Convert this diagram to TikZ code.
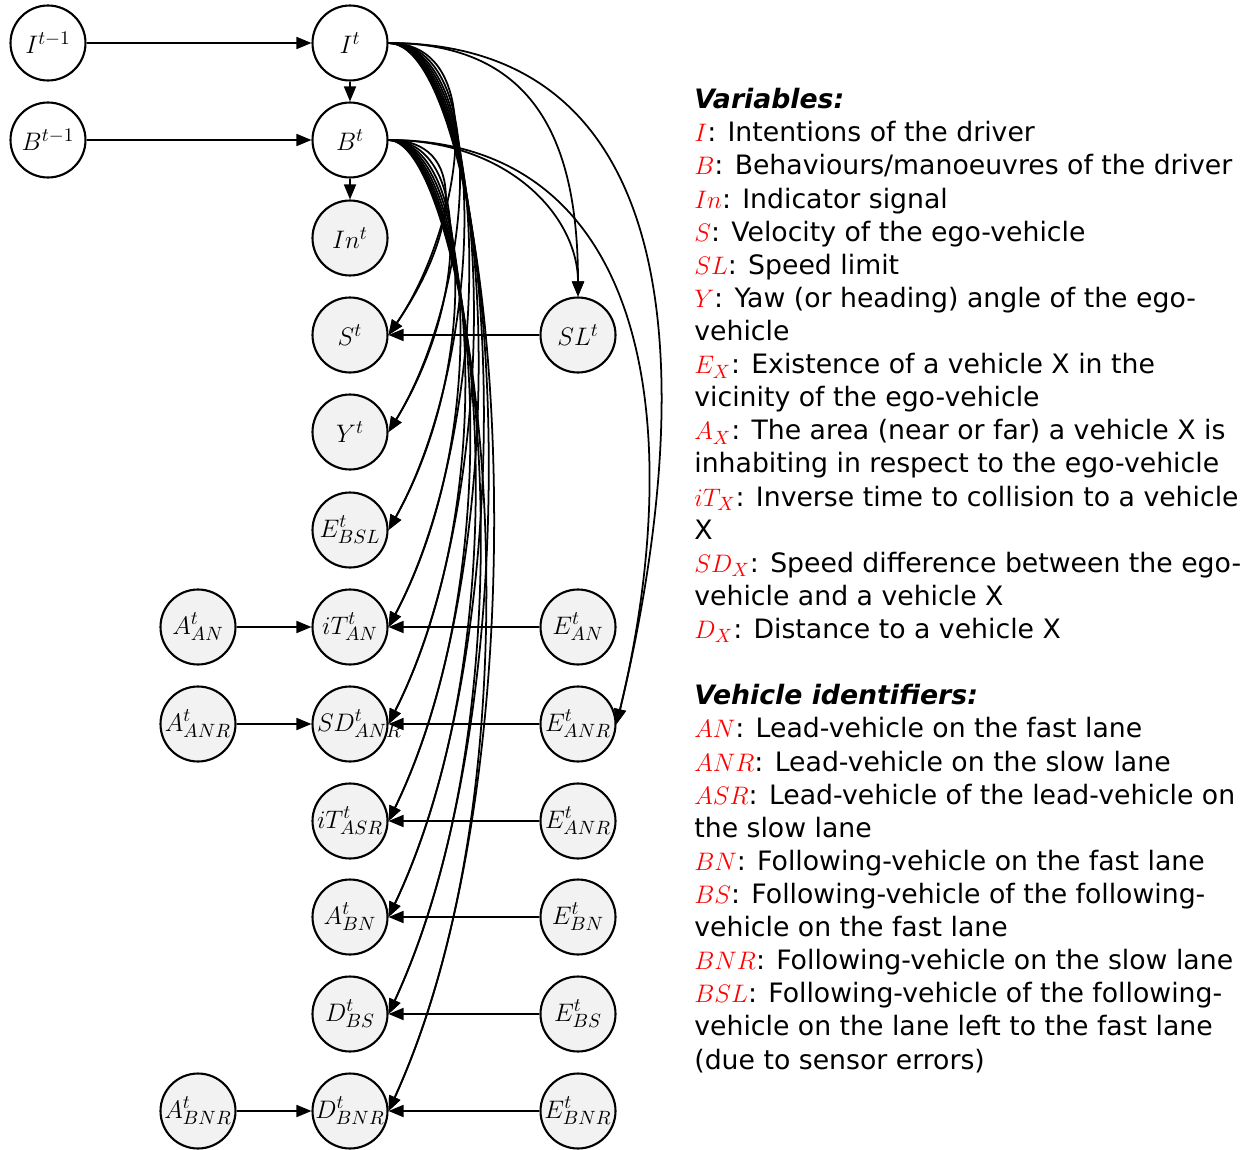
\documentclass[tikz,border=0pt]{standalone}
\usepackage{fontspec}
\usepackage{xcolor}
\usepackage{tikz}
\usetikzlibrary{arrows.meta}
\newfontfamily\legendfont{DejaVu Sans}
\definecolor{obsGray}{RGB}{242,242,242}
\definecolor{varRed}{RGB}{255,0,0}
\newcommand{\vname}[1]{\textcolor{varRed}{$#1$}}

\begin{document}
\begin{tikzpicture}[x=0.02cm,y=-0.02cm,
          hid/.style={circle,draw,fill=white,minimum size=1.5cm,inner sep=0pt,
                      line width=1.2pt,font=\fontsize{15.5}{18}\selectfont},
          obs/.style={hid,fill=obsGray},
          edge/.style={-{Triangle[length=0.3cm,width=0.24cm]},line width=1pt},
        ]
        \useasboundingbox (0,0) rectangle (1247,1149);
        \node[hid] (It1)   at (48,43)    {$I^{t-1}$};
        \node[hid] (It)    at (350,43)   {$I^{t}$};
        \node[hid] (Bt1)   at (48,140)   {$B^{t-1}$};
        \node[hid] (Bt)    at (350,140)  {$B^{t}$};
        \node[obs] (Int)   at (350,238)  {$In^{t}$};
        \node[obs] (St)    at (350,335)  {$S^{t}$};
        \node[obs] (SLt)   at (578,335)  {$SL^{t}$};
        \node[obs] (Yt)    at (350,432)  {$Y^{t}$};
        \node[obs] (EBSL)  at (350,530)  {$E^{t}_{BSL}$};
        \node[obs] (AAN)   at (198,627)  {$A^{t}_{AN}$};
        \node[obs] (iTAN)  at (350,627)  {$iT^{t}_{AN}$};
        \node[obs] (EAN)   at (578,627)  {$E^{t}_{AN}$};
        \node[obs] (AANR)  at (198,724)  {$A^{t}_{ANR}$};
        \node[obs] (SDANR) at (350,724)  {\makebox[1.32cm][l]{$SD^{t}_{ANR}$}};
        \node[obs] (EANR)  at (578,724)  {$E^{t}_{ANR}$};
        \node[obs] (iTASR) at (350,821)  {\makebox[1.3cm]{$iT^{t}_{ASR}$}};
        \node[obs] (EASR)  at (578,821)  {$E^{t}_{ANR}$};
        \node[obs] (ABN)   at (350,917)  {$A^{t}_{BN}$};
        \node[obs] (EBN)   at (578,917)  {$E^{t}_{BN}$};
        \node[obs] (DBS)   at (350,1014) {$D^{t}_{BS}$};
        \node[obs] (EBS)   at (578,1014) {$E^{t}_{BS}$};
        \node[obs] (ABNR)  at (198,1111) {$A^{t}_{BNR}$};
        \node[obs] (DBNR)  at (350,1111) {$D^{t}_{BNR}$};
        \node[obs] (EBNR)  at (578,1111) {$E^{t}_{BNR}$};
        \foreach \a/\b in {It1/It,Bt1/Bt,It/Bt,Bt/Int,SLt/St,EAN/iTAN,AAN/iTAN,
                           EANR/SDANR,AANR/SDANR,EASR/iTASR,EBN/ABN,EBS/DBS,
                           EBNR/DBNR,ABNR/DBNR}{
          \draw[edge](\a)--(\b);
        }
        \foreach \n/\bx/\by in {St/70/102,Yt/83/136,EBSL/95/170,iTAN/108/204,
                                SDANR/120/238,iTASR/132/272,ABN/145/306,
                                DBS/157/340,DBNR/170/373}{
          \draw[edge](It.east) .. controls +(105,0) and +(\bx,-\by) .. (\n.east);
          \draw[edge](Bt.east) .. controls +(80,0) and +(\bx,-\by) .. (\n.east);
        }
        \draw[edge](It.east) .. controls +(150,0) and +(0,-150) .. (SLt.north);
        \draw[edge](Bt.east) .. controls +(120,0) and +(0,-80) .. (SLt.north);
        \draw[edge](It.east) .. controls +(320,0) and +(72,-300) .. (EANR.east);
        \draw[edge](Bt.east) .. controls +(260,0) and +(72,-300) .. (EANR.east);
        \node[anchor=north west,inner sep=0pt,align=left,
              font=\legendfont\fontsize{15.2}{18.85}\selectfont] (legend) at (694,88) {%
          {\bfseries\itshape Variables:}\\
          \vname{I}: Intentions of the driver\\
          \vname{B}: Behaviours/manoeuvres of the driver\\
          \vname{In}: Indicator signal\\
          \vname{S}: Velocity of the ego-vehicle\\
          \vname{SL}: Speed limit\\
          \vname{Y}: Yaw (or heading) angle of the ego-\\
          vehicle\\
          \vname{E_X}: Existence of a vehicle X in the\\
          vicinity of the ego-vehicle\\
          \vname{A_X}: The area (near or far) a vehicle X is\\
          inhabiting in respect to the ego-vehicle\\
          \vname{iT_X}: Inverse time to collision to a vehicle\\
          X\\
          \vname{SD_X}: Speed difference between the ego-\\
          vehicle and a vehicle X\\
          \vname{D_X}: Distance to a vehicle X\\[18.85pt]
          {\bfseries\itshape Vehicle identifiers:}\\
          \vname{AN}: Lead-vehicle on the fast lane\\
          \vname{ANR}: Lead-vehicle on the slow lane\\
          \vname{ASR}: Lead-vehicle of the lead-vehicle on\\
          the slow lane\\
          \vname{BN}: Following-vehicle on the fast lane\\
          \vname{BS}: Following-vehicle of the following-\\
          vehicle on the fast lane\\
          \vname{BNR}: Following-vehicle on the slow lane\\
          \vname{BSL}: Following-vehicle of the following-\\
          vehicle on the lane left to the fast lane\\
          (due to sensor errors)};
      \end{tikzpicture}
\end{document}
